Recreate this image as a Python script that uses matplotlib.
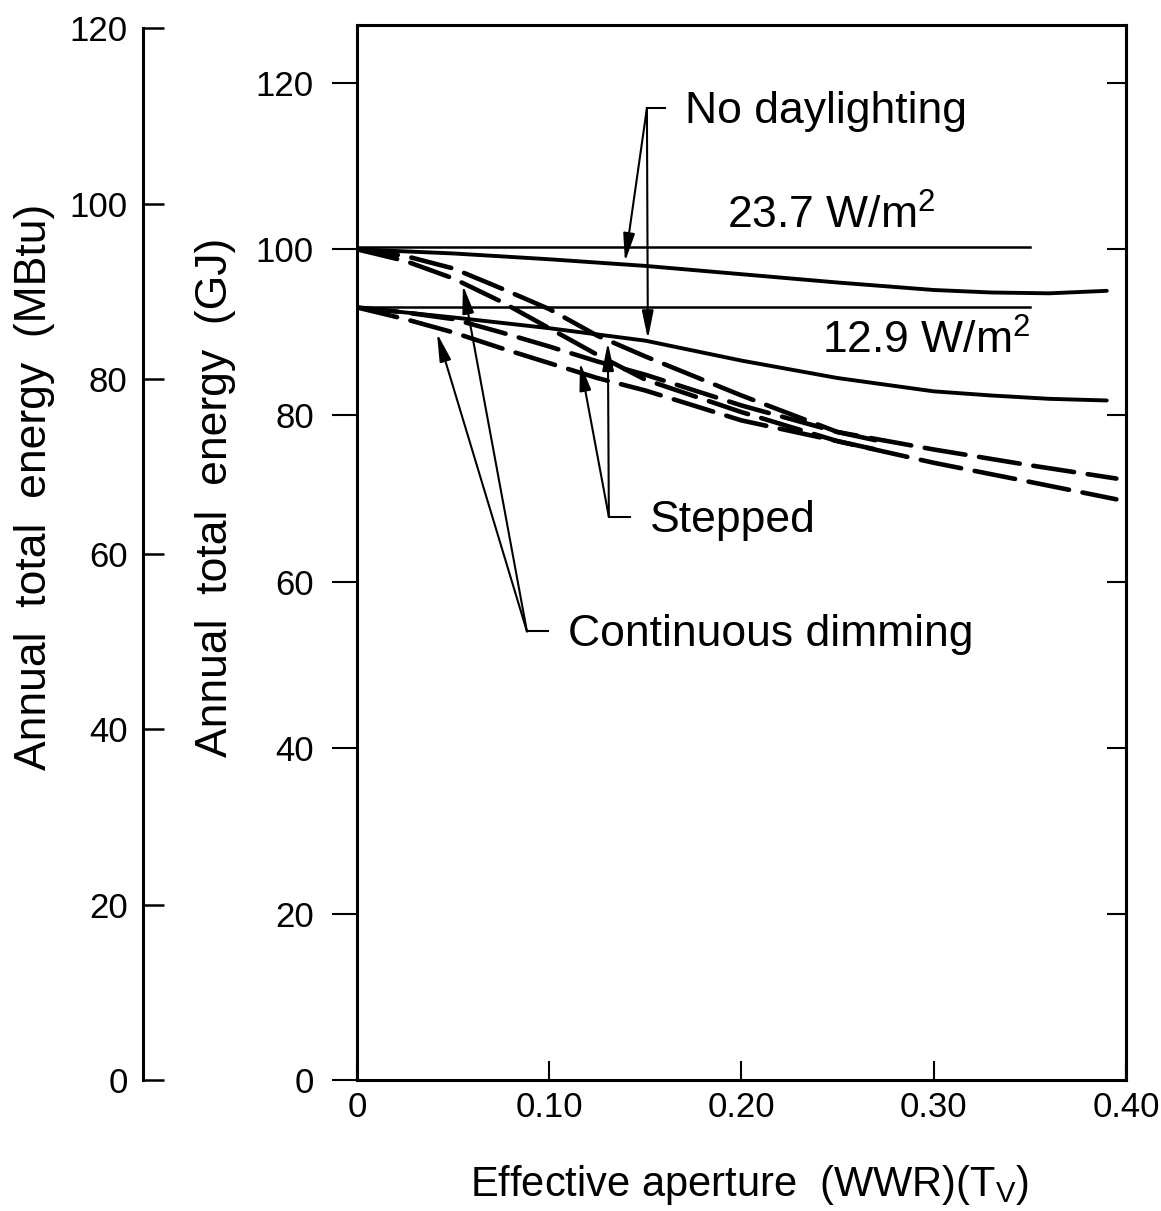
import matplotlib.pyplot as plt

plt.rcParams['font.family'] = ['Liberation Sans', 'DejaVu Sans']
plt.rcParams['mathtext.default'] = 'regular'

# effective aperture (WWR)(Tv)
x_solid = [0, 0.05, 0.10, 0.15, 0.20, 0.25, 0.30, 0.33, 0.36, 0.39]
solid_237 = [100.0, 99.5, 98.8, 98.0, 97.0, 96.0, 95.1, 94.8, 94.7, 95.0]
solid_129 = [93.0, 91.8, 90.5, 89.0, 86.6, 84.5, 82.9, 82.4, 82.0, 81.8]

x_ref = [0, 0.35]
ref_237 = [100.3, 100.3]
ref_129 = [93.0, 93.0]

x_dash = [0, 0.025, 0.05, 0.075, 0.10, 0.125, 0.15, 0.20, 0.25, 0.30, 0.35, 0.395]
dash_237_a = [100.0, 99.2, 97.7, 95.3, 92.8, 89.6, 87.1, 82.4, 78.0, 75.9, 74.0, 72.4]
dash_237_b = [100.0, 98.6, 96.5, 93.7, 90.5, 87.3, 84.3, 80.4, 76.9, 74.3, 72.0, 69.9]
# the 12.9 W/m2 dashed curves run into the 23.7 ones near 0.27
x_dash_129 = [0, 0.025, 0.05, 0.075, 0.10, 0.125, 0.15, 0.20, 0.25, 0.27]
dash_129_a = [93.0, 92.4, 91.6, 90.0, 88.3, 86.5, 84.9, 81.2, 78.0, 77.0]
dash_129_b = [93.0, 91.6, 90.0, 88.1, 86.3, 84.5, 83.0, 79.4, 76.9, 75.9]

x_ticks = [0, 0.10, 0.20, 0.30, 0.40]
x_ticklabels = ['0', '0.10', '0.20', '0.30', '0.40']
gj_ticks = [0, 20, 40, 60, 80, 100, 120]
mbtu_ticks = [0, 20, 40, 60, 80, 100, 120]
GJ_PER_MBTU = 1.055

W, H = 1161, 1211
fig = plt.figure(figsize=(W / 100, H / 100), dpi=100)
rect = [357 / W, 1 - 1080 / H, (1126 - 357) / W, (1080 - 25) / H]
ax = fig.add_axes(rect)

ax.plot(x_ref, ref_237, color='black', lw=1.8)
ax.plot(x_ref, ref_129, color='black', lw=1.8)
ax.plot(x_solid, solid_237, color='black', lw=2.8, solid_capstyle='round')
ax.plot(x_solid, solid_129, color='black', lw=2.8, solid_capstyle='round')
for d in [dash_237_a, dash_237_b]:
    ax.plot(x_dash, d, color='black', lw=3.3, linestyle=(0, (9, 3)),
            dash_capstyle='round')
for d in [dash_129_a, dash_129_b]:
    ax.plot(x_dash_129, d, color='black', lw=3.3, linestyle=(0, (9, 3)),
            dash_capstyle='round')

ax.set_xlim(0, 0.40)
ax.set_ylim(0, 127)
ax.set_xticks(x_ticks)
ax.set_xticklabels(x_ticklabels)
ax.set_yticks(gj_ticks)
ax.tick_params(axis='x', direction='in', length=14, width=1.5, labelsize=25, pad=8)
ax.tick_params(axis='y', direction='out', length=18, width=1.5, labelsize=25, pad=13)
for s in ax.spines.values():
    s.set_linewidth(2.2)

# inward ticks on the right side
axr = ax.twinx()
axr.set_ylim(0, 127)
axr.set_yticks(gj_ticks[1:])
axr.tick_params(axis='y', direction='in', length=14, width=1.5, labelright=False)
axr.spines['right'].set_linewidth(2.2)

# MBtu scale
ax2 = fig.add_axes(rect)
ax2.patch.set_visible(False)
ax2.set_ylim(0, 127 / GJ_PER_MBTU)
for side in ['top', 'right', 'bottom']:
    ax2.spines[side].set_visible(False)
ax2.spines['left'].set_position(('axes', (143 - 357) / (1126 - 357)))
ax2.spines['left'].set_bounds(0, 120)
ax2.spines['left'].set_linewidth(2.2)
ax2.set_xticks([])
ax2.set_yticks(mbtu_ticks)
ax2.tick_params(axis='y', direction='in', length=15, width=1.8, labelsize=25, pad=11)

# annotations
ann = dict(color='black', lw=1.5, shrinkA=0, shrinkB=0,
           arrowstyle='-|>,head_length=1.7,head_width=0.35')

# No daylighting
ax.plot([0.1508, 0.1602], [117.0, 117.0], color='black', lw=1.5)
ax.annotate('', xy=(0.1394, 98.5), xytext=(0.1508, 117.0), arrowprops=ann)
ax.annotate('', xy=(0.1513, 89.2), xytext=(0.1508, 117.0), arrowprops=ann)
ax.text(0.1706, 116.6, 'No daylighting', fontsize=32, va='center', ha='left')

# Stepped
ax.plot([0.131, 0.142], [67.8, 67.8], color='black', lw=1.5)
ax.annotate('', xy=(0.116, 86.4), xytext=(0.131, 67.8), arrowprops=ann)
ax.annotate('', xy=(0.1305, 88.8), xytext=(0.131, 67.8), arrowprops=ann)
ax.text(0.1524, 67.3, 'Stepped', fontsize=32, va='center', ha='left')

# Continuous dimming
ax.plot([0.0884, 0.0993], [54.0, 54.0], color='black', lw=1.5)
ax.annotate('', xy=(0.0416, 89.9), xytext=(0.0884, 54.0), arrowprops=ann)
ax.annotate('', xy=(0.0551, 95.7), xytext=(0.0884, 54.0), arrowprops=ann)
ax.text(0.1097, 53.6, 'Continuous dimming', fontsize=32, va='center', ha='left')

ax.text(0.1924, 104.0, '23.7 W/m$^{2}$', fontsize=32, va='center', ha='left')
ax.text(0.2418, 89.0, '12.9 W/m$^{2}$', fontsize=32, va='center', ha='left')

fig.text(35 / W, 1 - 770 / H, 'Annual  total  energy  (MBtu)', rotation=90,
         fontsize=32, ha='center', va='bottom')
fig.text(215 / W, 1 - 757 / H, 'Annual  total  energy  (GJ)', rotation=90,
         fontsize=32, ha='center', va='bottom')
fig.text(750 / W, 1 - 1185 / H, 'Effective aperture  (WWR)(T$_{V}$)',
         fontsize=30, ha='center', va='center')

fig.savefig('out.png', dpi=100, facecolor='white')
